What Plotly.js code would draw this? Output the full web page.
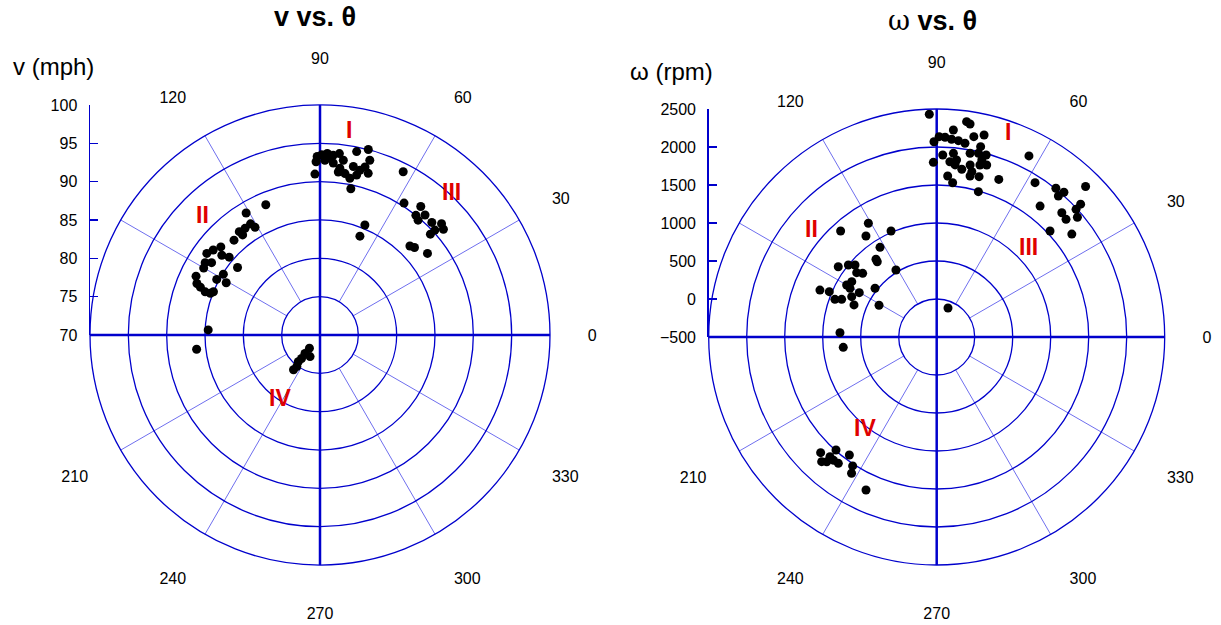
<!DOCTYPE html>
<html><head><meta charset="utf-8">
<script src="https://cdn.plot.ly/plotly-3.0.1.min.js"></script>
<style>html,body{margin:0;padding:0;background:#fff}#chart{width:1221px;height:625px}</style>
</head><body><div id="chart"></div>
<script>
// ---- data: v vs theta ----
const vTheta = [91.8,78.1,67.8,68.0,90.9,89.5,87.7,85.8,83.9,82.4,85.6,83.2,81.2,79.2,78.7,75.4,74.1,75.0,76.4,73.4,77.1,78.8,91.3,88.4,86.8,83.6,
  63.0,57.5,51.9,51.3,48.8,49.5,45.2,42.5,40.6,42.4,42.4,44.7,42.8,37.2,
  112.6,121.2,122.0,121.1,125.1,128.0,127.7,132.2,138.4,141.5,144.2,140.9,139.4,146.3,147.8,140.7,150.1,154.6,147.8,151.7,150.9,157.3,158.2,159.4,159.2,157.9,177.4,186.6,
  231.2,245.3,230.7,231.9,230.9,233.7,232.7];
const vMph = [91.0,89.5,85.5,83.9,93.3,93.5,93.7,93.5,93.8,93.0,92.5,91.9,91.3,90.8,94.4,95.0,93.7,92.7,92.1,92.0,91.4,92.4,92.6,92.8,93.1,91.4,
  93.9,90.4,91.3,90.0,90.8,89.7,90.7,91.5,91.2,90.3,89.5,86.5,86.8,87.6,
  88.4,88.6,87.1,86.4,87.0,87.1,86.5,86.7,87.3,87.8,88.2,86.5,85.6,87.0,87.7,83.9,87.5,87.9,84.9,85.3,84.0,87.4,86.8,86.0,85.3,85.0,84.6,86.2,
  72.2,73.1,73.1,73.9,74.5,75.1,75.7];
// ---- data: omega vs theta ----
const wTheta = [91.9,82.1,81.1,85.4,79.5,76.8,89.3,87.6,85.7,83.7,81.7,90.8,77.0,88.1,84.8,79.7,77.2,74.8,85.7,83.6,75.7,73.8,91.1,83.9,81.5,79.0,78.0,75.9,78.3,75.2,86.1,84.1,74.0,68.5,63.0,
  57.5,51.7,51.3,48.7,49.2,45.3,42.7,42.5,44.8,42.3,40.4,43.1,37.3,
  132.2,121.0,125.0,113.3,122.3,128.0,128.3,144.5,140.8,138.6,141.2,139.3,121.3,146.9,150.0,150.7,150.2,141.7,158.1,157.1,154.6,159.7,158.4,158.8,151.2,177.5,186.3,
  224.9,227.3,228.3,228.3,230.1,232.1,233.5,236.9,238.0,245.2,228.6,
  68.7];
const wRpm = [2432,2361,2337,2233,2181,2230,2136,2131,2110,2099,2077,2070,2070,1896,1927,1957,1979,1982,1813,1844,1903,1857,1799,1777,1732,1806,1724,1834,1664,1682,1624,1541,1489,1729,2174,
  1908,1695,2008,2036,1950,2285,2077,1987,1820,1801,1931,1542,1735,
  1382,1246,1123,1019,896,798,762,1091,1000,933,851,785,532,834,868,808,674,534,1156,1034,738,928,845,667,366,774,737,
  1656,1732,1611,1492,1615,1607,1432,1525,1614,1718,1688,
  -91];
const angTicks = [0,30,60,90,120,210,240,270,300,330];
const vTicks = [70,75,80,85,90,95,100];
const wTicks = [-500,0,500,1000,1500,2000,2500];
const spokeAngles = [30,60,120,150,210,240,300,330];

const W=1221,H=625;
const BLUE='#0000cc', SPOKE='#6f6fee', RED='#e00000';
const FONT='"Liberation Sans", Arial, sans-serif';
const gL={cx:320,cy:335,R:230}, gR={cx:936.7,cy:337,R:228};
const px=x=>x/W, py=y=>1-y/H;
function dom(g){return {x:[px(g.cx-g.R),px(g.cx+g.R)], y:[py(g.cy+g.R),py(g.cy-g.R)]};}

function gridShapes(g){
  const s=[];
  const rin=g.R/6;
  spokeAngles.forEach(a=>{
    const c=Math.cos(a*Math.PI/180), sn=Math.sin(a*Math.PI/180);
    s.push({type:'line',xref:'paper',yref:'paper',layer:'below',
      x0:px(g.cx+rin*c),y0:py(g.cy-rin*sn),x1:px(g.cx+g.R*c),y1:py(g.cy-g.R*sn),
      line:{color:SPOKE,width:1}});
  });
  s.push({type:'line',xref:'paper',yref:'paper',layer:'below',x0:px(g.cx-g.R),y0:py(g.cy),x1:px(g.cx+g.R),y1:py(g.cy),line:{color:BLUE,width:2.5}});
  s.push({type:'line',xref:'paper',yref:'paper',layer:'below',x0:px(g.cx),y0:py(g.cy-g.R),x1:px(g.cx),y1:py(g.cy+g.R),line:{color:BLUE,width:2.5}});
  return s;
}

function polarLayout(g,range,dtick){
  return {
    domain:dom(g), bgcolor:'rgba(0,0,0,0)',
    radialaxis:{range:range,dtick:dtick,tick0:range[0],showline:false,showticklabels:false,ticks:'',
      gridcolor:BLUE,gridwidth:1.3},
    angularaxis:{rotation:0,direction:'counterclockwise',tickmode:'array',tickvals:angTicks,
      ticktext:angTicks.map(String),showgrid:false,showline:true,linecolor:BLUE,linewidth:1.3,
      ticks:'outside',ticklen:34,tickcolor:'rgba(0,0,0,0)',tickfont:{size:16,color:'#000'}}
  };
}

const marker={size:9,color:'#000'};
const data=[
  {type:'scatterpolar',mode:'markers',theta:vTheta,r:vMph,marker:marker,subplot:'polar',hoverinfo:'skip'},
  {type:'scatterpolar',mode:'markers',theta:wTheta,r:wRpm,marker:marker,subplot:'polar2',hoverinfo:'skip'},
  {type:'scatter',x:[],y:[],xaxis:'x',yaxis:'y'},
  {type:'scatter',x:[],y:[],xaxis:'x2',yaxis:'y2'}
];

function yAx(g,ticks,anchor){
  return {domain:[py(g.cy),py(g.cy-g.R)],range:[ticks[0],ticks[ticks.length-1]],anchor:anchor,
    tickmode:'array',tickvals:ticks,showline:true,linecolor:BLUE,linewidth:1.5,ticks:'inside',ticklen:8,
    tickcolor:BLUE,tickwidth:1.5,showgrid:false,zeroline:false,tickfont:{size:16,color:'#000'},
    ticklabelstandoff:8,fixedrange:true};
}
function xAx(g,anchor){
  return {domain:dom(g).x,range:[0,1],anchor:anchor,visible:false,showgrid:false,zeroline:false,fixedrange:true};
}

function ann(text,x,y,size,color,bold){
  return {text:bold?'<b>'+text+'</b>':text,xref:'paper',yref:'paper',x:px(x),y:py(y),xanchor:'center',yanchor:'middle',
    showarrow:false,font:{size:size,color:color||'#000',family:FONT}};
}

const layout={
  width:W,height:H,margin:{l:0,r:0,t:0,b:0},paper_bgcolor:'#fff',plot_bgcolor:'rgba(0,0,0,0)',
  font:{family:FONT,color:'#000'},showlegend:false,
  polar:polarLayout(gL,[70,100],5),
  polar2:polarLayout(gR,[-500,2500],500),
  xaxis:xAx(gL,'y'), yaxis:yAx(gL,vTicks,'x'),
  xaxis2:xAx(gR,'y2'), yaxis2:yAx(gR,wTicks,'x2'),
  shapes:[...gridShapes(gL),...gridShapes(gR)],
  annotations:[
    ann('v vs. θ',315,17,27,'#000',true),
    ann('<span style="font-family:\'DejaVu Serif\',serif">ω</span><b> vs. θ</b>',932,20,27,'#000',false),
    ann('v (mph)',53,67,24),
    ann('ω (rpm)',671,72,24),
    ann('I',349,130,23,RED,true),
    ann('II',203,215,23,RED,true),
    ann('III',451,192,23,RED,true),
    ann('IV',280,398,23,RED,true),
    ann('I',1008,132,23,RED,true),
    ann('II',812,229,23,RED,true),
    ann('III',1028,247,23,RED,true),
    ann('IV',865,428,23,RED,true)
  ]
};
Plotly.newPlot('chart',data,layout,{staticPlot:true,displayModeBar:false});
</script></body></html>
